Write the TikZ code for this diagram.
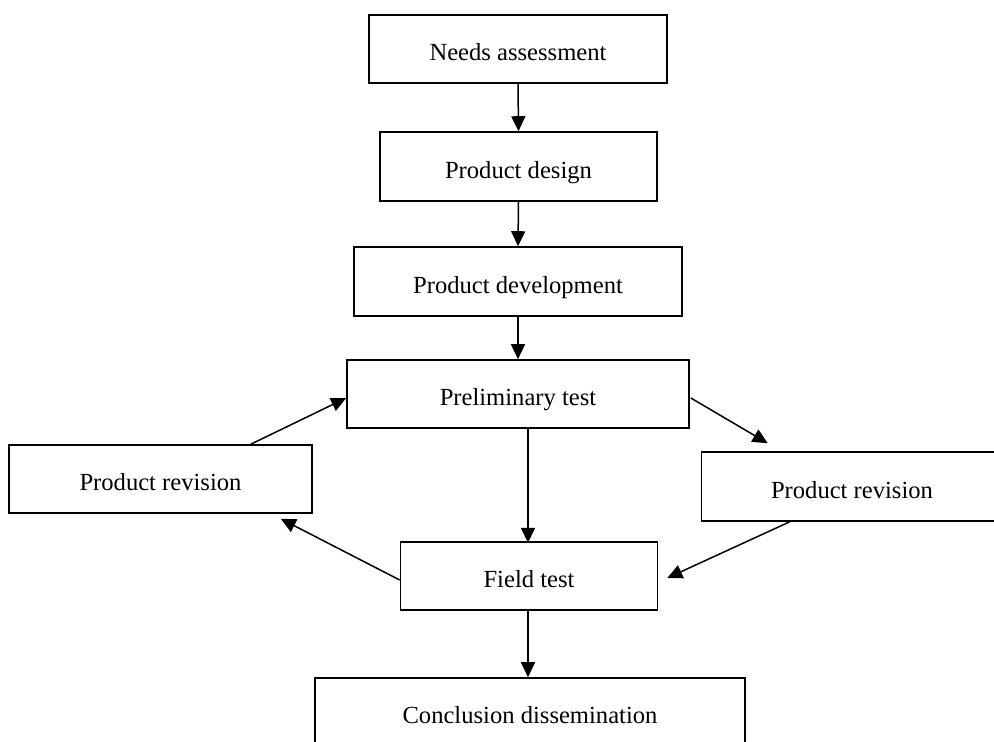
\documentclass[tikz,border=0pt]{standalone}
\usepackage{fontspec}
\setmainfont{Liberation Serif}
\usetikzlibrary{arrows.meta,calc}
\begin{document}
\begin{tikzpicture}[x=1pt,y=-1pt,
  box/.style={draw, line width=1.6pt, rectangle, inner sep=0pt,
    text height=24pt, text depth=1pt, minimum height=68pt,
    font=\fontsize{24.6}{30}\selectfont},
  flow/.style={line width=1.5pt, -{Triangle[length=15pt,width=14pt]}}]
\clip (0,0) rectangle (994,742);

% process steps
\node[box, minimum width=298pt] (needs)  at (518,49)    {Needs assessment};
\node[box, minimum width=277pt, minimum height=69pt] (design) at (518.5,166.5) {Product design};
\node[box, minimum width=328pt, minimum height=69pt] (dev)    at (518,281.5) {Product development};
\node[box, minimum width=342pt] (prelim) at (518,394)   {Preliminary test};
\node[box, minimum width=303pt] (revL)   at (160.5,479) {Product revision};
\node[box, minimum width=301pt, minimum height=69pt] (revR)   at (852,486.5) {Product revision};
\node[box, minimum width=257pt] (field)  at (529,576)   {Field test};
\node[box, minimum width=430pt] (concl)  at (530,712)   {Conclusion dissemination};

% main sequence
\draw[flow] (needs.south) -- (design.north);
\draw[flow] (design.south) -- (dev.north);
\draw[flow] (dev.south) -- (prelim.north);
\draw[flow] ($(prelim.south)+(10,0)$) -- ($(prelim.south)+(10,114)$) coordinate (fieldtop);
\draw[flow] ($(field.south)+(-1,0)$) -- ($(concl.north)+(-2,0)$);

% revision loops
\draw[flow] ($(revL.north east)+(-62,0)$) -- ($(prelim.west)+(0,4)$);
\draw[flow] ($(prelim.east)+(1,4)$) -- ($(revR.north west)+(67,-8)$);
\draw[flow] ($(revR.south west)+(89,0)$) -- ($(field.east)+(9,2)$);
\draw[flow] ($(field.west)+(0,4)$) -- ($(revL.south east)+(-32,5)$);
\end{tikzpicture}
\end{document}
